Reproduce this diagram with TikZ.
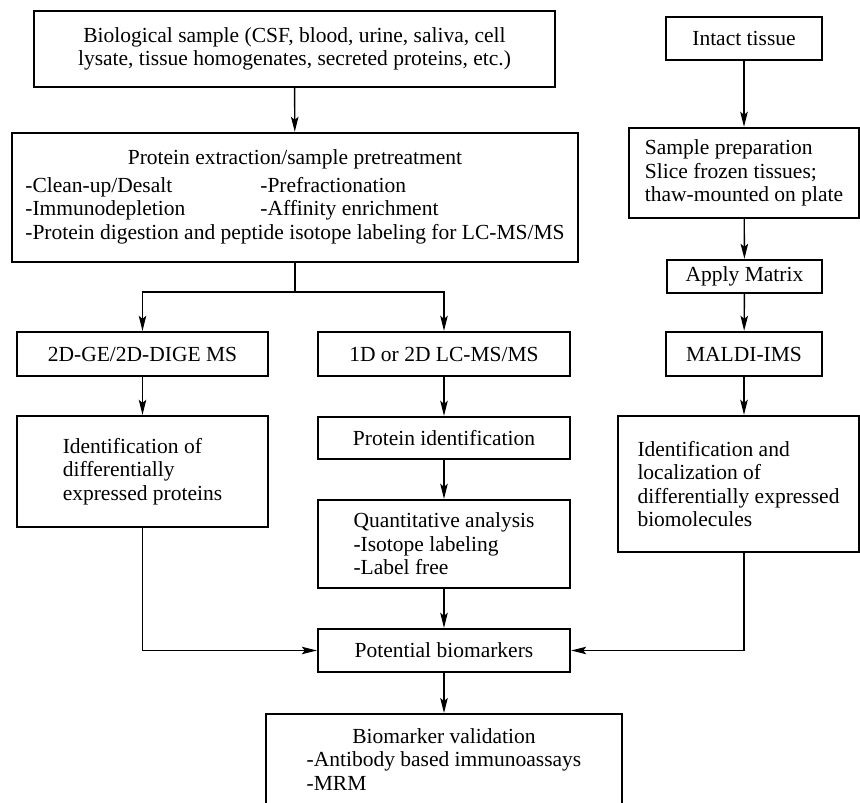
\documentclass[tikz,border=0pt]{standalone}
\usepackage{fontspec}
\setmainfont{Liberation Serif}
\usetikzlibrary{arrows.meta}
\begin{document}
\begin{tikzpicture}[x=1pt,y=-1pt,
  bx/.style={draw, line width=2.4pt, inner sep=0pt, font=\fontsize{21.5}{23.5}\selectfont},
  ar/.style={line width=1.4pt, -{Stealth[length=15pt,width=7.5pt,inset=3pt]}},
  ln/.style={line width=1.4pt}]
\useasboundingbox (0,0) rectangle (860,803);
% left / middle column
\node[bx, minimum width=521pt, minimum height=76pt, align=center] (bio) at (294.5,49)
  {Biological sample (CSF, blood, urine, saliva, cell\\lysate, tissue homogenates, secreted proteins, etc.)};
\node[bx, minimum width=566pt, minimum height=129pt] (prot) at (295,197.5)
  {\begin{tabular}{@{}p{235pt}@{}l@{}}
   \multicolumn{2}{c}{Protein extraction/sample pretreatment}\\[4pt]
   -Clean-up/Desalt & -Prefractionation\\
   -Immunodepletion & -Affinity enrichment\\
   \multicolumn{2}{@{}l@{}}{-Protein digestion and peptide isotope labeling for LC-MS/MS}
   \end{tabular}};
\coordinate (split) at (295,292);
\node[bx, minimum width=251pt, minimum height=44pt] (ge) at (142.5,354) {2D-GE/2D-DIGE MS};
\node[bx, minimum width=251pt, minimum height=111pt, align=left] (idp) at (142.5,471.5)
  {Identification of\\differentially\\expressed proteins};
\node[bx, minimum width=252pt, minimum height=44pt] (lc) at (444,354) {1D or 2D LC-MS/MS};
\node[bx, minimum width=252pt, minimum height=42pt] (pid) at (444,438) {Protein identification};
\node[bx, minimum width=252pt, minimum height=88pt, align=left] (quant) at (444,544)
  {Quantitative analysis\\-Isotope labeling\\-Label free};
\node[bx, minimum width=252pt, minimum height=43pt] (pot) at (444,650.5) {Potential biomarkers};
\node[bx, anchor=north, minimum width=356pt, inner ysep=12.5pt] (val) at (444,713)
  {\begin{tabular}{@{}l@{}}
   \multicolumn{1}{c}{Biomarker validation}\\
   -Antibody based immunoassays\\
   -MRM\\[40pt]
   \end{tabular}};
% right column
\node[bx, minimum width=156pt, minimum height=43pt] (intact) at (744,38.5) {Intact tissue};
\node[bx, minimum width=230pt, minimum height=90pt, align=left] (prep) at (744,173)
  {Sample preparation\\Slice frozen tissues;\\thaw-mounted on plate};
\node[bx, minimum width=155pt, minimum height=33pt] (matrix) at (744.5,276.5) {Apply Matrix};
\node[bx, minimum width=156pt, minimum height=44pt] (maldi) at (744,354) {MALDI-IMS};
\node[bx, minimum width=241pt, minimum height=136pt, align=left] (mid) at (738.5,484)
  {Identification and\\localization of\\differentially expressed\\biomolecules};
% connectors
\draw[ar] (bio) -- (prot);
\draw[ln] (prot.south) -- (split);
\draw[ar] (split) -| (ge.north);
\draw[ar] (split) -| (lc.north);
\draw[ar] (ge) -- (idp);
\draw[ar] (lc) -- (pid);
\draw[ar] (pid) -- (quant);
\draw[ar] (quant) -- (pot);
\draw[ar] (pot) -- (val);
\draw[ar] (idp.south) |- (pot.west);
\draw[ar] (intact) -- (prep);
\draw[ar] (prep) -- (matrix);
\draw[ar] (matrix) -- (maldi);
\draw[ar] (maldi.south) -- (maldi.south |- mid.north);
\draw[ar] (maldi.south |- mid.south) |- (pot.east);
\end{tikzpicture}
\end{document}
